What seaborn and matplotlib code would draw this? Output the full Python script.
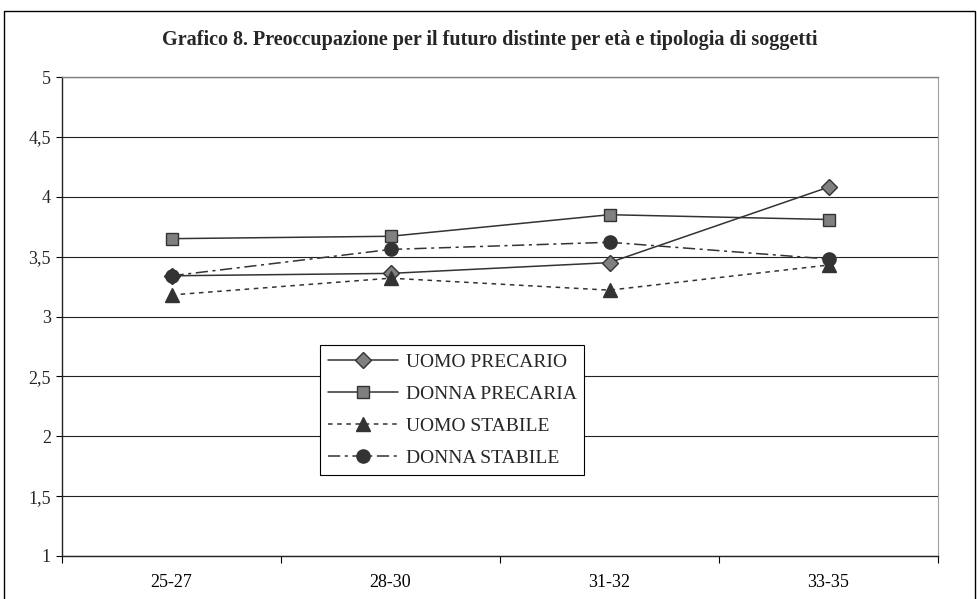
import matplotlib
matplotlib.use("Agg")
import matplotlib.pyplot as plt
import seaborn as sns
import pandas as pd
from matplotlib.patches import Rectangle
from matplotlib.ticker import FixedLocator, FuncFormatter

categories = ["25-27", "28-30", "31-32", "33-35"]
uomo_precario = [3.34, 3.36, 3.45, 4.08]
donna_precaria = [3.65, 3.67, 3.85, 3.81]
uomo_stabile = [3.18, 3.32, 3.22, 3.43]
donna_stabile = [3.34, 3.56, 3.62, 3.48]
series_names = ["UOMO PRECARIO", "DONNA PRECARIA", "UOMO STABILE", "DONNA STABILE"]
title = "Grafico 8. Preoccupazione per il futuro distinte per età e tipologia di soggetti"

sns.set_theme(style="white")
plt.rcParams["font.family"] = ["Liberation Serif", "DejaVu Serif"]

fig = plt.figure(figsize=(9.78, 5.99), dpi=100)
ax = fig.add_axes([62/978, 1-556/599, 876/978, 479/599])

values = [uomo_precario, donna_precaria, uomo_stabile, donna_stabile]
styles = [
    dict(marker="D", markersize=8.5, markerfacecolor="#808080", markeredgecolor="#333333", dashes=None),
    dict(marker="s", markersize=9, markerfacecolor="#808080", markeredgecolor="#333333", dashes=None),
    dict(marker="^", markersize=10, markerfacecolor="#333333", markeredgecolor="#333333", dashes=(3, 3)),
    dict(marker="o", markersize=9.5, markerfacecolor="#333333", markeredgecolor="#333333", dashes=(8, 3, 2, 3)),
]

for name, vals, st in zip(series_names, values, styles):
    df = pd.DataFrame({"x": range(len(categories)), "y": vals})
    kw = dict(marker=st["marker"], markersize=st["markersize"],
              markerfacecolor=st["markerfacecolor"], markeredgecolor=st["markeredgecolor"],
              markeredgewidth=1, color="#333333", linewidth=1.1, label=name)
    sns.lineplot(data=df, x="x", y="y", ax=ax, **kw)
    l = ax.get_lines()[-1]
    if st["dashes"] is not None:
        l.set_dashes(st["dashes"])

ax.set_xlim(-0.5, 3.5)
ax.set_ylim(1, 5)
ax.set_xticks(range(len(categories)))
ax.set_xticklabels(categories)
ax.xaxis.set_minor_locator(FixedLocator([-0.5, 0.5, 1.5, 2.5, 3.5]))
ax.tick_params(axis="x", which="major", length=0, pad=13, labelsize=13, colors="black")
ax.tick_params(axis="x", which="minor", length=5, width=0.8, color="black", direction="out", bottom=True)
ax.set_yticks([1, 1.5, 2, 2.5, 3, 3.5, 4, 4.5, 5])
ax.yaxis.set_major_formatter(FuncFormatter(lambda v, p: (f"{v:g}").replace(".", ",")))
ax.tick_params(axis="y", length=4, width=0.8, color="black", direction="out", left=True, labelsize=13, pad=4)
ax.grid(axis="y", color="#222222", linewidth=0.8)
ax.set_axisbelow(True)
ax.set_xlabel("")
ax.set_ylabel("")
for side in ["left", "bottom"]:
    ax.spines[side].set_color("#222222")
    ax.spines[side].set_linewidth(1.0)
ax.spines["right"].set_color("#a0a0a0")
ax.spines["right"].set_linewidth(0.8)
ax.spines["top"].set_color("#808080")
ax.spines["top"].set_linewidth(1.0)

leg = ax.legend(loc="lower left", bbox_to_anchor=(258/876, (556-475)/479), borderaxespad=0,
                frameon=True, fancybox=False, edgecolor="black", framealpha=1,
                fontsize=14, handlelength=3.6, labelspacing=0.75, borderpad=0.4,
                handletextpad=0.4)
leg.get_frame().set_linewidth(0.8)

fig.text(490/978, 1-40/599, title, ha="center", va="center", fontsize=14.5, fontweight="bold")

fig.patches.append(Rectangle((4/978, -0.1), 971/978, 1.1 - 11/599, transform=fig.transFigure,
                             fill=False, edgecolor="black", linewidth=1.0))

fig.savefig("out.png", dpi=100)
